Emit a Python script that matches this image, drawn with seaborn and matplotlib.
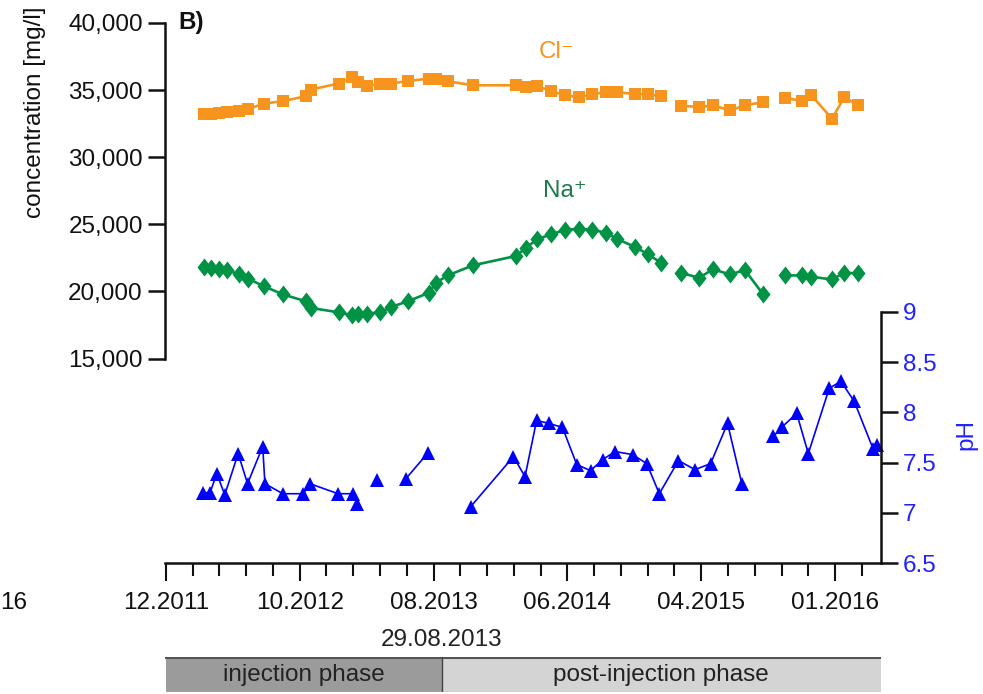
import numpy as np
import pandas as pd
import matplotlib
matplotlib.use("Agg")
import matplotlib.pyplot as plt
from matplotlib.ticker import FixedLocator, FuncFormatter
import seaborn as sns

sns.set_style("ticks")
plt.rcParams['font.family'] = ['Liberation Sans', 'DejaVu Sans']

# ---------------- data (x = days since 20.12.2011) ----------------
ion_days = [86, 100, 118, 137, 164, 185, 219, 263, 313, 325, 387, 418, 431, 451, 481,
            505, 543, 589, 605, 632, 688, 785, 807, 833, 864, 895, 926, 956, 986, 1012,
            1051, 1081, 1110, 1154, 1195, 1226, 1265, 1298, 1339, 1388, 1425, 1447,
            1493, 1521, 1551]
ion_segment = [0] * 33 + [1] * 6 + [2] * 6
chloride_mgl = [33190, 33240, 33290, 33360, 33440, 33590, 33990, 34180, 34540, 35040,
                35490, 35980, 35610, 35280, 35490, 35490, 35680, 35860, 35810, 35660,
                35360, 35360, 35230, 35280, 34930, 34610, 34480, 34690, 34860, 34860,
                34690, 34690, 34540, 33840, 33740, 33860, 33490, 33860, 34110,
                34440, 34180, 34610, 32870, 34480, 33860]
sodium_mgl = [21830, 21760, 21640, 21590, 21270, 20940, 20390, 19770, 19270, 18770,
              18440, 18220, 18290, 18350, 18440, 18840, 19270, 19890, 20640, 21190,
              21940, 22640, 23260, 23890, 24260, 24580, 24680, 24580, 24380, 23890,
              23330, 22760, 22130, 21390, 21010, 21640, 21270, 21590, 19770,
              21190, 21190, 21090, 20890, 21390, 21340]

ph_days = [84, 99, 114, 132, 162, 183, 217, 222, 262, 308, 323, 386, 419, 428, 474,
           538, 588, 683, 779, 805, 831, 859, 889, 921, 952, 979, 1007, 1046, 1078,
           1106, 1149, 1186, 1221, 1259, 1291, 1362, 1380, 1414, 1440, 1487, 1513,
           1543, 1585, 1593]
ph_segment = [0] * 14 + [1] + [2] * 2 + [3] * 18 + [4] * 9
ph_values = [7.20, 7.20, 7.39, 7.18, 7.59, 7.29, 7.66, 7.29, 7.19, 7.19, 7.29, 7.19,
             7.19, 7.09, 7.33, 7.34, 7.60, 7.06, 7.56, 7.36, 7.92, 7.89, 7.85, 7.48,
             7.42, 7.53, 7.61, 7.58, 7.49, 7.19, 7.52, 7.43, 7.49, 7.89, 7.29, 7.76,
             7.85, 7.99, 7.59, 8.24, 8.31, 8.11, 7.64, 7.68]

x_tick_days = [0, 300, 600, 900, 1200, 1500]
x_tick_labels = ["12.2011", "10.2012", "08.2013", "06.2014", "04.2015", "01.2016"]
conc_ticks = [15000, 20000, 25000, 30000, 35000, 40000]
ph_ticks = [6.5, 7, 7.5, 8, 8.5, 9]
ph_tick_labels = ["6.5", "7", "7.5", "8", "8.5", "9"]
phase_names = ["injection phase", "post-injection phase"]
phase_start_day = [0, 618]
phase_end_day = [618, 1603]
injection_end_label = "29.08.2013"

# ---------------- style ----------------
ORANGE = "#F7941D"
GREEN = "#009245"
GREEN_TXT = "#1E7B4E"
BLUE = "#0000FF"
BLUE_TXT = "#2222FF"
FS = 17.5

W, H = 983, 694
fig = plt.figure(figsize=(W / 100, H / 100), dpi=100)


def rect(x0, y0, x1, y1):
    return [x0 / W, 1 - y1 / H, (x1 - x0) / W, (y1 - y0) / H]


XLIM = (-2, 1603)

ax_p = fig.add_axes(rect(165, 312, 881, 563))
ax_c = fig.add_axes(rect(165, 23, 881, 358.5))
ax_bar = fig.add_axes(rect(165, 657, 881, 692))

for a in (ax_c, ax_p):
    a.patch.set_visible(False)
    a.set_xlim(*XLIM)

# ---- concentration axis ----
ion_df = pd.DataFrame({"day": ion_days, "seg": ion_segment,
                       "Cl": chloride_mgl, "Na": sodium_mgl})
sns.lineplot(data=ion_df, x="day", y="Cl", units="seg", estimator=None, sort=False,
             ax=ax_c, color=ORANGE, linewidth=1.9, marker="s", markersize=8.8,
             markeredgecolor=ORANGE, markeredgewidth=0, clip_on=False)
diamond = [(0, 1), (0.78, 0), (0, -1), (-0.78, 0), (0, 1)]
sns.lineplot(data=ion_df, x="day", y="Na", units="seg", estimator=None, sort=False,
             ax=ax_c, color=GREEN, linewidth=1.9, marker=diamond, markersize=13,
             markeredgecolor=GREEN, markeredgewidth=0, clip_on=False)
ax_c.set_ylim(15000, 40000)
ax_c.set_xlim(*XLIM)
ax_c.set_xlabel("")
ax_c.set_ylabel("")
for s in ("top", "right", "bottom"):
    ax_c.spines[s].set_visible(False)
ax_c.spines["left"].set_linewidth(1.8)
ax_c.spines["left"].set_color("#111111")
ax_c.set_xticks([])
ax_c.yaxis.set_major_locator(FixedLocator(conc_ticks))
ax_c.yaxis.set_major_formatter(FuncFormatter(lambda v, p: f"{int(v):,}"))
ax_c.tick_params(axis="y", direction="out", length=12, width=1.8, color="#111111",
                 labelsize=FS, pad=4, labelcolor="#111111")

# ---- pH axis ----
ph_df = pd.DataFrame({"day": ph_days, "seg": ph_segment, "pH": ph_values})
sns.lineplot(data=ph_df, x="day", y="pH", units="seg", estimator=None, sort=False,
             ax=ax_p, color=BLUE, linewidth=1.2, marker="^", markersize=9.5,
             markeredgecolor=BLUE, markeredgewidth=0, clip_on=False)
ax_p.set_ylim(6.5, 9)
ax_p.set_xlim(*XLIM)
ax_p.set_xlabel("")
ax_p.set_ylabel("")
ax_p.spines["top"].set_visible(False)
ax_p.spines["left"].set_visible(False)
for s in ("right", "bottom"):
    ax_p.spines[s].set_linewidth(1.8)
    ax_p.spines[s].set_color("#111111")
ax_p.yaxis.tick_right()
ax_p.set_yticks(ph_ticks)
ax_p.set_yticklabels(ph_tick_labels)
ax_p.tick_params(axis="y", direction="out", length=12, width=1.8, color="#111111",
                 labelsize=FS, labelcolor=BLUE_TXT, pad=4)
ax_p.set_xticks(x_tick_days)
ax_p.set_xticklabels(x_tick_labels)
ax_p.xaxis.set_minor_locator(FixedLocator(np.arange(0, 1601, 60)))
ax_p.tick_params(axis="x", which="major", direction="out", length=13, width=1.5,
                 color="#111111", labelsize=FS, pad=8, labelcolor="#111111")
ax_p.tick_params(axis="x", which="minor", direction="out", length=9.5, width=1.5,
                 color="#111111")

# ---- phase bar ----
phase_colors = ["#9B9B9B", "#D4D4D4"]
widths = [e - s for s, e in zip(phase_start_day, phase_end_day)]
ax_bar.barh(0, widths, left=phase_start_day, height=1, color=phase_colors,
            edgecolor="none")
ax_bar.set_xlim(*XLIM)
ax_bar.set_ylim(-0.5, 0.5)
ax_bar.axhline(0.5, color="#555555", linewidth=2.2)
ax_bar.axhline(-0.5, color="#BBBBBB", linewidth=1)
ax_bar.axvline(phase_end_day[0], color="#444444", linewidth=1)
for name, s, e in zip(phase_names, phase_start_day, phase_end_day):
    ax_bar.text((s + e) / 2, -0.02, name, ha="center", va="center", fontsize=FS,
                color="#222222")
ax_bar.axis("off")
ax_bar.text(phase_end_day[0], 1.0, injection_end_label, ha="center", va="center",
            fontsize=FS, color="#222222", clip_on=False)

# ---- texts ----
fig.text(178 / W, 1 - 23 / H, "B)", ha="left", va="center", fontsize=FS,
         fontweight="bold", color="#111111")
fig.text(35 / W, 1 - 112 / H, "concentration [mg/l]", rotation=90, ha="center",
         va="center", fontsize=FS, color="#111111")
fig.text(966 / W, 1 - 435 / H, "pH", rotation=90, ha="center", va="center",
         fontsize=FS, color=BLUE_TXT)
fig.text(557 / W, 1 - 52 / H, "Cl\u207b", ha="center", va="center", fontsize=FS,
         color=ORANGE)
fig.text(565 / W, 1 - 191 / H, "Na\u207a", ha="center", va="center", fontsize=FS,
         color=GREEN_TXT)
fig.text(0.5 / W, 1 - 603 / H, "16", ha="left", va="center", fontsize=FS,
         color="#111111")

fig.savefig("out.png", dpi=100)
